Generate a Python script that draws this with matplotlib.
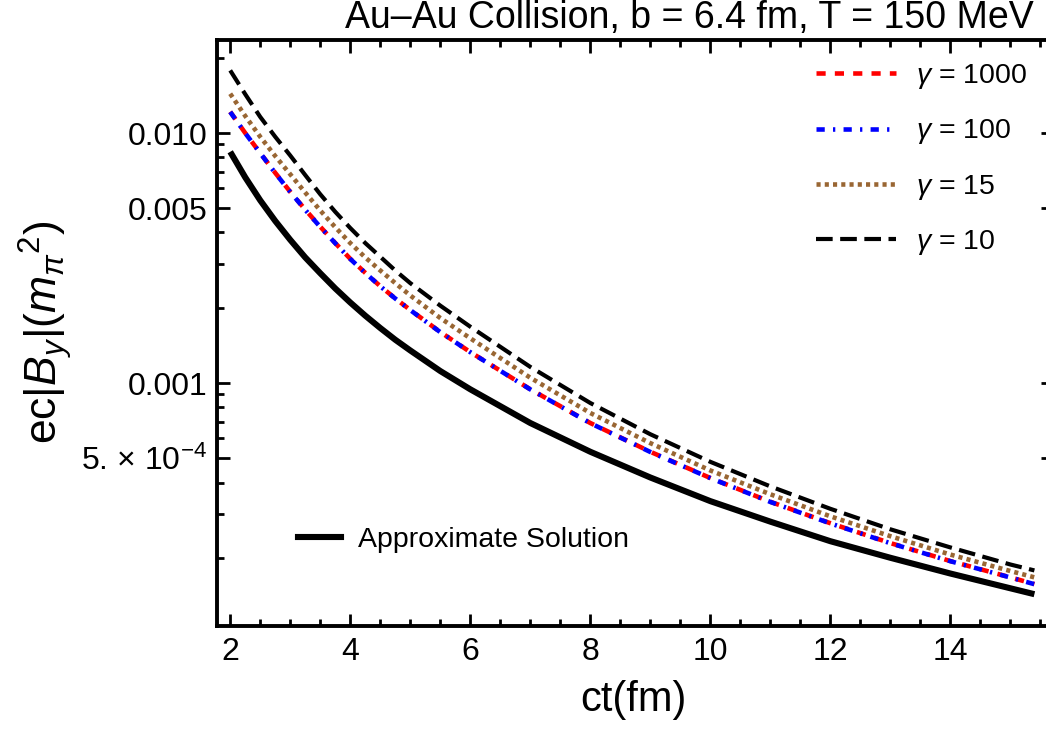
import matplotlib
matplotlib.use('Agg')
import matplotlib.pyplot as plt
from matplotlib.lines import Line2D
from matplotlib.ticker import FixedLocator, FixedFormatter, NullFormatter

plt.rcParams['font.family'] = ['Liberation Sans', 'DejaVu Sans']
plt.rcParams['mathtext.fontset'] = 'custom'
plt.rcParams['mathtext.rm'] = 'Liberation Sans'
plt.rcParams['mathtext.it'] = 'Liberation Sans:italic'
plt.rcParams['mathtext.bf'] = 'Liberation Sans:bold'

# ---------------- data ----------------
ct = [2, 2.25, 2.5, 2.75, 3, 3.25, 3.5, 3.75, 4, 4.25, 4.5, 4.75, 5, 5.5, 6,
      7, 8, 9, 10, 11, 12, 13, 14, 15, 15.4]

B_g1000 = [1.216e-2, 1.00e-2, 8.32e-3, 6.93e-3, 5.82e-3, 4.94e-3, 4.22e-3, 3.63e-3,
           3.14e-3, 2.76e-3, 2.44e-3, 2.18e-3, 1.96e-3, 1.60e-3, 1.33e-3,
           9.44e-4, 6.92e-4, 5.31e-4, 4.17e-4, 3.35e-4, 2.75e-4, 2.29e-4, 1.94e-4,
           1.67e-4, 1.57e-4]
B_g100 = [1.214e-2, 0.999e-2, 8.31e-3, 6.92e-3, 5.81e-3, 4.93e-3, 4.21e-3, 3.625e-3,
          3.135e-3, 2.757e-3, 2.437e-3, 2.178e-3, 1.958e-3, 1.598e-3, 1.329e-3,
          9.43e-4, 6.91e-4, 5.30e-4, 4.165e-4, 3.345e-4, 2.745e-4, 2.287e-4, 1.938e-4,
          1.668e-4, 1.568e-4]
B_g15 = [1.436e-2, 1.17e-2, 9.66e-3, 8.09e-3, 6.84e-3, 5.78e-3, 4.90e-3, 4.20e-3,
         3.63e-3, 3.18e-3, 2.82e-3, 2.51e-3, 2.24e-3, 1.82e-3, 1.51e-3,
         1.05e-3, 7.59e-4, 5.75e-4, 4.47e-4, 3.59e-4, 2.93e-4, 2.44e-4, 2.06e-4,
         1.77e-4, 1.67e-4]
B_g10 = [1.78e-2, 1.43e-2, 1.16e-2, 9.66e-3, 8.13e-3, 6.79e-3, 5.69e-3, 4.84e-3,
         4.17e-3, 3.63e-3, 3.20e-3, 2.82e-3, 2.51e-3, 2.04e-3, 1.68e-3,
         1.16e-3, 8.32e-4, 6.24e-4, 4.84e-4, 3.86e-4, 3.14e-4, 2.60e-4, 2.20e-4,
         1.88e-4, 1.78e-4]
B_approx = [8.41e-3, 6.65e-3, 5.38e-3, 4.45e-3, 3.74e-3, 3.18e-3, 2.75e-3, 2.39e-3,
            2.10e-3, 1.86e-3, 1.66e-3, 1.49e-3, 1.35e-3, 1.117e-3, 9.44e-4,
            6.92e-4, 5.31e-4, 4.19e-4, 3.37e-4, 2.79e-4, 2.33e-4, 2.00e-4, 1.73e-4,
            1.51e-4, 1.43e-4]

gamma_labels = [r'$\gamma$ = 1000', r'$\gamma$ = 100', r'$\gamma$ = 15', r'$\gamma$ = 10']
approx_label = 'Approximate Solution'
title = 'Au\u2013Au Collision, b = 6.4 fm, T = 150 MeV'

y_major = [5e-4, 1e-3, 5e-3, 1e-2]
y_major_labels = [r'5. $\times$ 10$^{-4}$', '0.001', '0.005', '0.010']
y_minor = [2e-4, 3e-4, 4e-4, 6e-4, 7e-4, 8e-4, 9e-4, 2e-3, 3e-3, 4e-3, 6e-3, 7e-3,
           8e-3, 9e-3, 2e-2]
x_major = [2, 4, 6, 8, 10, 12, 14]

# ---------------- figure ----------------
W, H = 1046, 730
fig = plt.figure(figsize=(W / 100, H / 100), dpi=100)
ax = fig.add_axes([217 / W, 1 - 626 / H, (1053 - 217) / W, (626 - 40) / H])
ax.set_yscale('log')
ax.set_xlim(1.78, 15.71)
ax.set_ylim(1.067e-4, 0.02355)

lw = 3.3
styles = dict(
    g1000=dict(color='#ff0000', lw=lw, dashes=(2.0, 2.0)),
    g100=dict(color='#0000ff', lw=lw, dashes=(1.8, 1.8, 0.5, 1.8)),
    g15=dict(color='#996633', lw=lw, dashes=(0.9, 0.9)),
    g10=dict(color='black', lw=3.0, dashes=(4.0, 1.8)),
)

l_approx, = ax.plot(ct, B_approx, color='black', lw=4.4, solid_capstyle='butt')
l10, = ax.plot(ct, B_g10, **styles['g10'])
l15, = ax.plot(ct, B_g15, **styles['g15'])
l1000, = ax.plot(ct, B_g1000, **styles['g1000'])
l100, = ax.plot(ct, B_g100, **styles['g100'])

# ticks
ax.yaxis.set_major_locator(FixedLocator(y_major))
ax.yaxis.set_major_formatter(FixedFormatter(y_major_labels))
ax.yaxis.set_minor_locator(FixedLocator(y_minor))
ax.yaxis.set_minor_formatter(NullFormatter())
ax.xaxis.set_major_locator(FixedLocator(x_major))
ax.xaxis.set_minor_locator(FixedLocator([v / 2 for v in range(4, 32)]))
ax.tick_params(which='both', direction='in', top=True, right=True, colors='black')
ax.tick_params(which='major', length=9, width=2.0, labelsize=23)
ax.tick_params(which='minor', length=5, width=2.0)
ax.tick_params(axis='y', which='major', pad=7)
ax.tick_params(axis='x', which='major', pad=8)
for s in ax.spines.values():
    s.set_linewidth(2.8)

# legends
handles = [Line2D([], [], **styles['g1000']), Line2D([], [], **styles['g100']),
           Line2D([], [], **styles['g15']), Line2D([], [], **styles['g10'])]
leg1 = ax.legend(handles, gamma_labels, loc='upper left',
                 bbox_to_anchor=(816 / W, 1 - 62 / H), bbox_transform=fig.transFigure,
                 frameon=False, fontsize=20.5, handlelength=2.8, handletextpad=0.7,
                 labelspacing=0.93, borderpad=0, borderaxespad=0)
ax.add_artist(leg1)
ax.legend([Line2D([], [], color='black', lw=4.4)], [approx_label], loc='upper left',
          bbox_to_anchor=(298 / W, 1 - 527 / H), bbox_transform=fig.transFigure,
          frameon=False, fontsize=20.5, handlelength=1.5, handletextpad=0.6,
          borderpad=0, borderaxespad=0)

fig.text(689 / W, 1 - 18 / H, title, ha='center', va='center', fontsize=27)
fig.text(633 / W, 1 - 700 / H, 'ct(fm)', ha='center', va='center', fontsize=30)
fig.text(45 / W, 1 - 332 / H, r'ec$|B_y|(m_\pi{}^2)$', ha='center', va='center',
         rotation=90, fontsize=32)

fig.savefig('out.png', dpi=100)
